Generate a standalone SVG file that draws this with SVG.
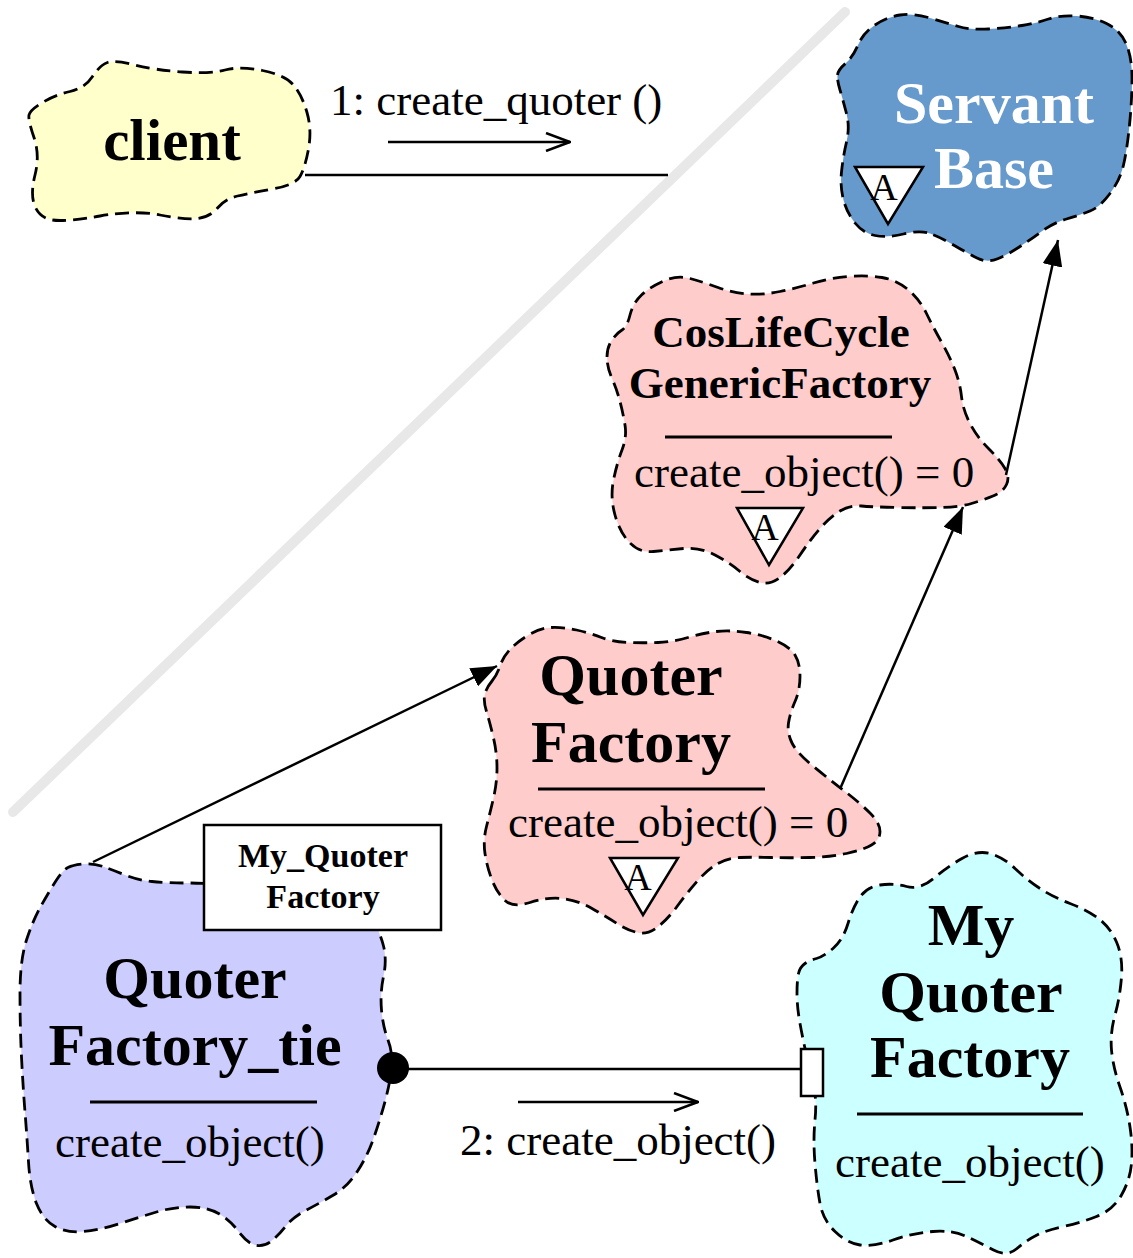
<svg xmlns="http://www.w3.org/2000/svg" width="1133" height="1258" viewBox="0 0 1133 1258">
<style>
.cloud{stroke:#000;stroke-width:2.8;stroke-dasharray:14 7;}
.t{font-family:"Liberation Serif","Times New Roman",serif;fill:#000;}
.b{font-weight:bold;text-anchor:middle;}
.r{font-size:45px;}
.ln{stroke:#000;stroke-width:2.5;fill:none;}
.div{stroke:#000;stroke-width:3;}
.tri{fill:#fff;stroke:#000;stroke-width:2.5;}
</style>
<defs>
<marker id="ah" viewBox="0 0 26 20" refX="26" refY="10" markerWidth="26" markerHeight="20" orient="auto" markerUnits="userSpaceOnUse">
<path d="M0,0 L26,10 L0,20 Z" fill="#000"/>
</marker>
<marker id="oa" viewBox="0 0 26 20" refX="25" refY="10" markerWidth="26" markerHeight="20" orient="auto" markerUnits="userSpaceOnUse">
<path d="M1,1 L25,10 L1,19" fill="none" stroke="#000" stroke-width="2.5"/>
</marker>
</defs>
<rect width="1133" height="1258" fill="#fff"/>
<line x1="13" y1="812" x2="845" y2="12" stroke="#e8e8e8" stroke-width="10" stroke-linecap="round"/>

<g id="client">
<path class="cloud" fill="#ffffcc" d="M29,115 Q30,110 42.5,102.5 Q55,95 70,91.5 Q85,88 92.5,76.5 Q100,65 107.5,62.5 Q115,60 135,65 Q155,70 182.5,72 Q210,74 225,70 Q240,66 262.5,70.5 Q285,75 293.5,85 Q302,95 307,112.5 Q312,130 308.5,149 Q305,168 300,176.5 Q295,185 272.5,189 Q250,193 237.5,196 Q225,199 217.5,208 Q210,217 197.5,218.5 Q185,220 160,215 Q135,210 100,216 Q65,222 52.5,220 Q40,218 35,206.5 Q30,195 35,175 Q40,155 34,137.5 Q28,120 29,115 Z"/>
<text class="t b" x="172" y="160" font-size="59">client</text>
</g>

<g id="servant-base">
<path class="cloud" fill="#6699cc" d="M837.5,75 Q838,70 845.5,63.5 Q853,57 858,45 Q863,33 875,25 Q887,17 900,15 Q913,13 930,18 Q947,23 958.5,26.5 Q970,30 988.5,29 Q1007,28 1022,25.5 Q1037,23 1048.5,19 Q1060,15 1076.5,16 Q1093,17 1106.5,23.5 Q1120,30 1126,43.5 Q1132,57 1132,78.5 Q1132,100 1129.5,125 Q1127,150 1123.5,165 Q1120,180 1110,193.5 Q1100,207 1090,211 Q1080,215 1066.5,219 Q1053,223 1041.5,231.5 Q1030,240 1018.5,247.5 Q1007,255 997,259 Q987,263 977,258 Q967,253 953.5,245 Q940,237 930,233.5 Q920,230 903.5,234 Q887,238 875,235.5 Q863,233 855,223 Q847,213 843.5,200 Q840,187 841.5,172 Q843,157 846.5,142 Q850,127 846.5,113.5 Q843,100 840,90 Q837,80 837.5,75 Z"/>
<text class="t b" x="994" y="123" font-size="60" style="fill:#fff">Servant</text>
<text class="t b" x="994" y="188" font-size="60" style="fill:#fff">Base</text>
<polygon class="tri" points="855,167 923,167 888,224"/>
<text class="t" x="884" y="200" font-size="38" text-anchor="middle">A</text>
</g>

<g id="coslifecycle">
<path class="cloud" fill="#ffcccc" d="M607,357 Q607,347 612,340 Q617,333 622,330 Q627,327 630,315 Q633,303 641.5,295 Q650,287 663.5,281 Q677,275 690,278.5 Q703,282 718,287.5 Q733,293 748,294 Q763,295 780,291.5 Q797,288 813.5,283 Q830,278 848.5,276.5 Q867,275 882,277.5 Q897,280 908.5,290 Q920,300 926.5,313.5 Q933,327 941.5,342 Q950,357 955,370 Q960,383 961.5,396.5 Q963,410 970,423.5 Q977,437 988.5,448.5 Q1000,460 1005,468.5 Q1010,477 1006.5,484.5 Q1003,492 993,496 Q983,500 971.5,503.5 Q960,507 941.5,507.5 Q923,508 898,507.5 Q873,507 861.5,506 Q850,505 840,511 Q830,517 820,528.5 Q810,540 800,555 Q790,570 780,577.5 Q770,585 760,582.5 Q750,580 740,571.5 Q730,563 715,555 Q700,547 683.5,548.5 Q667,550 653.5,551.5 Q640,553 630,543 Q620,533 615,515 Q610,497 613.5,480 Q617,463 622,450 Q627,437 625,425 Q623,413 620,401.5 Q617,390 612,378.5 Q607,367 607,357 Z"/>
<text class="t b" x="781" y="347" font-size="45">CosLifeCycle</text>
<text class="t b" x="780" y="398" font-size="45">GenericFactory</text>
<line class="div" x1="665" y1="437" x2="892" y2="437"/>
<text class="t r" x="634" y="487">create_object() = 0</text>
<polygon class="tri" points="737,508 803,508 769,565"/>
<text class="t" x="765" y="540" font-size="38" text-anchor="middle">A</text>
</g>

<g id="quoter-factory">
<path class="cloud" fill="#ffcccc" d="M492,681 Q497,675 500,666 Q503,657 510,649.5 Q517,642 528.5,635 Q540,628 551.5,627.5 Q563,627 576.5,630 Q590,633 601.5,637.5 Q613,642 628,642.5 Q643,643 658,642.5 Q673,642 688,637.5 Q703,633 716.5,631.5 Q730,630 746.5,632.5 Q763,635 776.5,641 Q790,647 795,655 Q800,663 800,676.5 Q800,690 795,701.5 Q790,713 788.5,723 Q787,733 792,743 Q797,753 813.5,766.5 Q830,780 845,791.5 Q860,803 870,813 Q880,823 880,831.5 Q880,840 871.5,845 Q863,850 846.5,853.5 Q830,857 810,857.5 Q790,858 771.5,857.5 Q753,857 740,857.5 Q727,858 717,864 Q707,870 697,881.5 Q687,893 677,906.5 Q667,920 657,927.5 Q647,935 637,932.5 Q627,930 617,923.5 Q607,917 592,908.5 Q577,900 562,898.5 Q547,897 530,902.5 Q513,908 505,900.5 Q497,893 492,880 Q487,867 485,853.5 Q483,840 486.5,826.5 Q490,813 493.5,798 Q497,783 497,768 Q497,753 493.5,738 Q490,723 486.5,711.5 Q483,700 485,693.5 Q487,687 492,681 Z"/>
<text class="t b" x="631" y="695" font-size="60">Quoter</text>
<text class="t b" x="631" y="762" font-size="60">Factory</text>
<line class="div" x1="538" y1="789" x2="765" y2="789"/>
<text class="t r" x="508" y="837">create_object() = 0</text>
<polygon class="tri" points="610,858 678,858 643,915"/>
<text class="t" x="638" y="890" font-size="38" text-anchor="middle">A</text>
</g>

<g id="quoter-factory-tie">
<path class="cloud" fill="#ccccff" d="M68,867.5 Q73,865 83,864 Q93,863 103,866.5 Q113,870 125,875 Q137,880 152,881.5 Q167,883 188.5,883 Q210,883 285,889 Q360,895 370,913.5 Q380,932 383.5,946 Q387,960 383.5,976.5 Q380,993 381.5,1010 Q383,1027 388,1040 Q393,1053 391.5,1068 Q390,1083 385,1101.5 Q380,1120 373.5,1138.5 Q367,1157 357,1172 Q347,1187 333.5,1195 Q320,1203 306.5,1210 Q293,1217 285,1227 Q277,1237 270,1242 Q263,1247 255,1245 Q247,1243 238.5,1231.5 Q230,1220 218.5,1213.5 Q207,1207 190,1207 Q173,1207 156.5,1212 Q140,1217 120,1223.5 Q100,1230 83.5,1231.5 Q67,1233 55,1226.5 Q43,1220 36.5,1203.5 Q30,1187 28.5,1162 Q27,1137 25,1112 Q23,1087 21.5,1057 Q20,1027 20,993.5 Q20,960 26.5,940 Q33,920 41.5,905 Q50,890 56.5,880 Q63,870 68,867.5 Z"/>
<text class="t b" x="195" y="998" font-size="60">Quoter</text>
<text class="t b" x="195" y="1065" font-size="60">Factory_tie</text>
<line class="div" x1="90" y1="1102" x2="317" y2="1102"/>
<text class="t r" x="55" y="1157">create_object()</text>
</g>

<g id="my-quoter-factory-label">
<rect x="204" y="825" width="237" height="105" fill="#fff" stroke="#000" stroke-width="2.5"/>
<text class="t b" x="323" y="867" font-size="34">My_Quoter</text>
<text class="t b" x="323" y="908" font-size="34">Factory</text>
</g>

<g id="my-quoter-factory">
<path class="cloud" fill="#ccffff" d="M798.5,973.5 Q800,967 805,963.5 Q810,960 816.5,958.5 Q823,957 833,948.5 Q843,940 848,923.5 Q853,907 860,897 Q867,887 880,885 Q893,883 906.5,886.5 Q920,890 933.5,878.5 Q947,867 962,858.5 Q977,850 990,853.5 Q1003,857 1015,868.5 Q1027,880 1040,888.5 Q1053,897 1070,903.5 Q1087,910 1098.5,918.5 Q1110,927 1116.5,942 Q1123,957 1121.5,977 Q1120,997 1115,1015 Q1110,1033 1111.5,1050 Q1113,1067 1120,1087 Q1127,1107 1130,1127 Q1133,1147 1131.5,1163.5 Q1130,1180 1121.5,1195 Q1113,1210 1096.5,1216.5 Q1080,1223 1063.5,1226.5 Q1047,1230 1037,1235 Q1027,1240 1017,1248.5 Q1007,1257 993.5,1250 Q980,1243 966.5,1236.5 Q953,1230 933,1231.5 Q913,1233 893,1240 Q873,1247 860,1245 Q847,1243 835,1231.5 Q823,1220 820,1203.5 Q817,1187 815,1163.5 Q813,1140 815,1120 Q817,1100 813.5,1085 Q810,1070 806.5,1055 Q803,1040 800,1023.5 Q797,1007 797,993.5 Q797,980 798.5,973.5 Z"/>
<text class="t b" x="971" y="945" font-size="60">My</text>
<text class="t b" x="971" y="1012" font-size="60">Quoter</text>
<text class="t b" x="970" y="1077" font-size="60">Factory</text>
<line class="div" x1="857" y1="1114" x2="1083" y2="1114"/>
<text class="t r" x="835" y="1177">create_object()</text>
</g>

<g id="connectors">
<line class="ln" x1="305" y1="175" x2="668" y2="175"/>
<line class="ln" x1="388" y1="142" x2="570" y2="142" marker-end="url(#oa)"/>
<text class="t r" x="330" y="115">1: create_quoter ()</text>
<line class="ln" x1="93" y1="862" x2="497" y2="666" marker-end="url(#ah)"/>
<line class="ln" x1="840" y1="789" x2="963" y2="507" marker-end="url(#ah)"/>
<line class="ln" x1="1006" y1="475" x2="1058" y2="240" marker-end="url(#ah)"/>
<line class="ln" x1="393" y1="1069" x2="801" y2="1069"/>
<circle cx="393" cy="1068" r="16" fill="#000"/>
<rect x="801" y="1049" width="22" height="47" fill="#fff" stroke="#000" stroke-width="2.5"/>
<line class="ln" x1="518" y1="1102" x2="698" y2="1102" marker-end="url(#oa)"/>
<text class="t r" x="460" y="1155">2: create_object()</text>
</g>
</svg>
